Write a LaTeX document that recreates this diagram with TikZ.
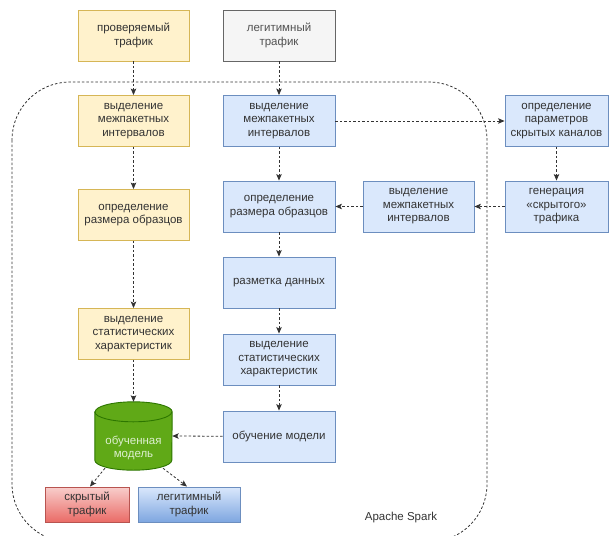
\documentclass[tikz,border=0pt]{standalone}
\usepackage{fontspec}
\setmainfont{Liberation Sans}
\usetikzlibrary{arrows.meta,calc}
\definecolor{ylwfill}{HTML}{FFF2CC}
\definecolor{ylwline}{HTML}{D6B656}
\definecolor{blufill}{HTML}{DAE8FC}
\definecolor{bluline}{HTML}{6C8EBF}
\definecolor{bludark}{HTML}{7EA6E0}
\definecolor{gryfill}{HTML}{F5F5F5}
\definecolor{gryline}{HTML}{666666}
\definecolor{redfill}{HTML}{F8CECC}
\definecolor{reddark}{HTML}{EA6B66}
\definecolor{redline}{HTML}{B85450}
\definecolor{grnfill}{HTML}{60A917}
\definecolor{grnline}{HTML}{2D7600}
\definecolor{grntext}{HTML}{DDEFD0}
\definecolor{txt}{HTML}{333333}
\definecolor{arr}{HTML}{333333}
\tikzset{
  box/.style={draw, line width=0.9pt, align=center, inner sep=1pt, text=txt,
    font=\fontsize{11.5}{13.5}\selectfont, minimum width=111pt, minimum height=51pt},
  ybox/.style={box, fill=ylwfill, draw=ylwline},
  bbox/.style={box, fill=blufill, draw=bluline},
  gbox/.style={box, fill=gryfill, draw=gryline, text=txt!85},
  flow/.style={draw=arr, line width=0.8pt, dash pattern=on 2.5pt off 2pt,
    -{Stealth[length=6.5pt,width=5.5pt,inset=1.5pt]}},
  lbl/.style={font=\fontsize{11.5}{13.5}\selectfont, text=txt, inner sep=0pt}
}
\begin{document}
\begin{tikzpicture}[x=1pt,y=1pt]
\useasboundingbox (0,0) rectangle (609,-535);
% Apache Spark container
\draw[arr, line width=0.8pt, dash pattern=on 2.5pt off 2pt, rounded corners=58pt]
  (12,-82) rectangle (487,-542);
\node[lbl] (spark) at (401,-518) {Apache Spark};

% left column
\node[ybox] (A) at (133.5,-35.5) {проверяемый\\трафик};
\node[ybox] (C) at (133.5,-121) {выделение\\межпакетных\\интервалов};
\node[ybox] (I) at (133.5,-215) {определение\\размера образцов};
\node[ybox] (K) at (133.5,-334) {выделение\\статистических\\характеристик};

% middle column
\node[gbox, minimum width=112pt] (B) at (279,-35.5) {легитимный\\трафик};
\node[bbox, minimum width=112pt] (D) at (279,-121) {выделение\\межпакетных\\интервалов};
\node[bbox, minimum width=112pt] (H) at (279,-206.5) {определение\\размера образцов};
\node[bbox, minimum width=112pt] (J) at (279,-282.5) {разметка данных};
\node[bbox, minimum width=112pt] (L) at (279,-359.5) {выделение\\статистических\\характеристик};
\node[bbox, minimum width=112pt] (M) at (279,-436.5) {обучение модели};

% right part
\node[bbox] (G) at (418.5,-206.5) {выделение\\межпакетных\\интервалов};
\node[bbox, minimum width=103pt] (E) at (556.5,-121) {определение\\параметров\\скрытых каналов};
\node[bbox, minimum width=103pt] (F) at (556.5,-206.5) {генерация\\«скрытого»\\трафика};

% cylinder
\node[minimum width=77pt, minimum height=68pt, inner sep=0pt] (cyl) at (133.5,-436) {};
\filldraw[fill=grnfill, draw=grnline, line width=0.9pt]
  ([yshift=-10pt]cyl.north west) -- ([yshift=10pt]cyl.south west)
  arc[start angle=180, end angle=360, x radius=38.5pt, y radius=10pt]
  -- ([yshift=-10pt]cyl.north east)
  arc[start angle=0, end angle=180, x radius=38.5pt, y radius=10pt] -- cycle;
\draw[draw=grnline, line width=0.9pt] ([yshift=-10pt]cyl.north west)
  arc[start angle=180, end angle=360, x radius=38.5pt, y radius=10pt];
\node[align=center, text=grntext, font=\fontsize{11.5}{13.5}\selectfont, inner sep=0pt]
  (cyltxt) at (133.5,-448) {обученная\\модель};

% result boxes
\node[box, minimum width=84pt, minimum height=35pt, draw=redline,
  top color=redfill, bottom color=reddark] (N) at (87,-504.5) {скрытый\\трафик};
\node[box, minimum width=102pt, minimum height=35pt, draw=bluline,
  top color=blufill, bottom color=bludark] (O) at (189,-504.5) {легитимный\\трафик};

% connectors
\draw[flow] (A) -- (C);
\draw[flow] (C) -- (I);
\draw[flow] (I) -- (K);
\draw[flow] (K) -- (cyl.north);
\draw[flow] (B) -- (D);
\draw[flow] (D) -- (H);
\draw[flow] (H) -- (J);
\draw[flow] (J) -- (L);
\draw[flow] (L) -- (M);
\draw[flow] (M) -- (cyl.east);
\draw[flow] (D) -- (E);
\draw[flow] (E) -- (F);
\draw[flow] (F) -- (G);
\draw[flow] (G) -- (H);
\draw[flow] ($(cyl.south)+(-28.5,2)$) -- ([xshift=3pt]N.north);
\draw[flow] ($(cyl.south)+(29.5,2)$) -- ([xshift=-2pt]O.north);
\end{tikzpicture}
\end{document}
